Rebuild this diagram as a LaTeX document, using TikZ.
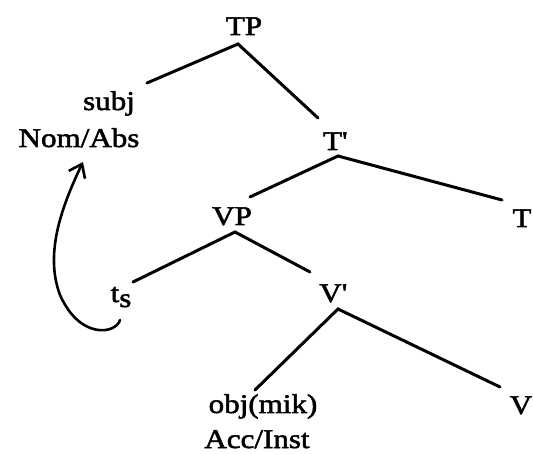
\documentclass[tikz,border=0pt]{standalone}
\usepackage{fontspec}
\setmainfont{Liberation Serif}[FakeStretch=1.15,FakeBold=2]
\usetikzlibrary{arrows.meta}
\begin{document}
\begin{tikzpicture}[x=1pt,y=-1pt,
  lbl/.style={anchor=base,inner sep=0pt,font=\fontsize{27}{30}\selectfont},
  branch/.style={line width=3pt,line cap=round},
  movearrow/.style={line width=2.6pt,line cap=round,-{Straight Barb[length=12pt,width=18pt,line width=2.6pt]}}]
\useasboundingbox (0,0) rectangle (533,454);
% labels
\node[lbl] (TP) at (244,35) {TP};
\node[lbl] (subj) at (109,110) {subj};
\node[lbl] (nom) at (79,147) {Nom/Abs};
\node[lbl] (Tbar) at (335,150) {T\textquotesingle};
\node[lbl] (T) at (522,227) {T};
\node[lbl] (VP) at (232,225) {VP};
\node[lbl] (ts) at (121,302) {t\raisebox{-5pt}{s}};
\node[lbl] (Vbar) at (333,302) {V\textquotesingle};
\node[lbl] (obj) at (263,413) {obj(mik)};
\node[lbl] (acc) at (257,448) {Acc/Inst};
\node[lbl] (V) at (521,414) {V};
% branch points
\coordinate (TPa) at (238,44);
\coordinate (subjE) at (147,83);
\coordinate (TbarE) at (318,118);
\coordinate (Tbara) at (338,156);
\coordinate (VPE) at (250,197);
\coordinate (TE) at (502,200);
\coordinate (VPa) at (235,232);
\coordinate (tsE) at (133,282);
\coordinate (VbarE) at (310,272);
\coordinate (Vbara) at (338,309);
\coordinate (objE) at (255,390);
\coordinate (VE) at (500,387);
\draw[branch] (subjE) -- (TPa) -- (TbarE);
\draw[branch] (VPE) -- (Tbara) -- (TE);
\draw[branch] (tsE) -- (VPa) -- (VbarE);
\draw[branch] (objE) -- (Vbara) -- (VE);
% movement arrow
\coordinate (arrS) at (120,320);
\coordinate (arrM) at (60,295);
\coordinate (arrE) at (83,162);
\draw[movearrow] (arrS) .. controls (116,334) and (80,340) .. (arrM)
  .. controls (45,255) and (60,210) .. (arrE);
\end{tikzpicture}
\end{document}
